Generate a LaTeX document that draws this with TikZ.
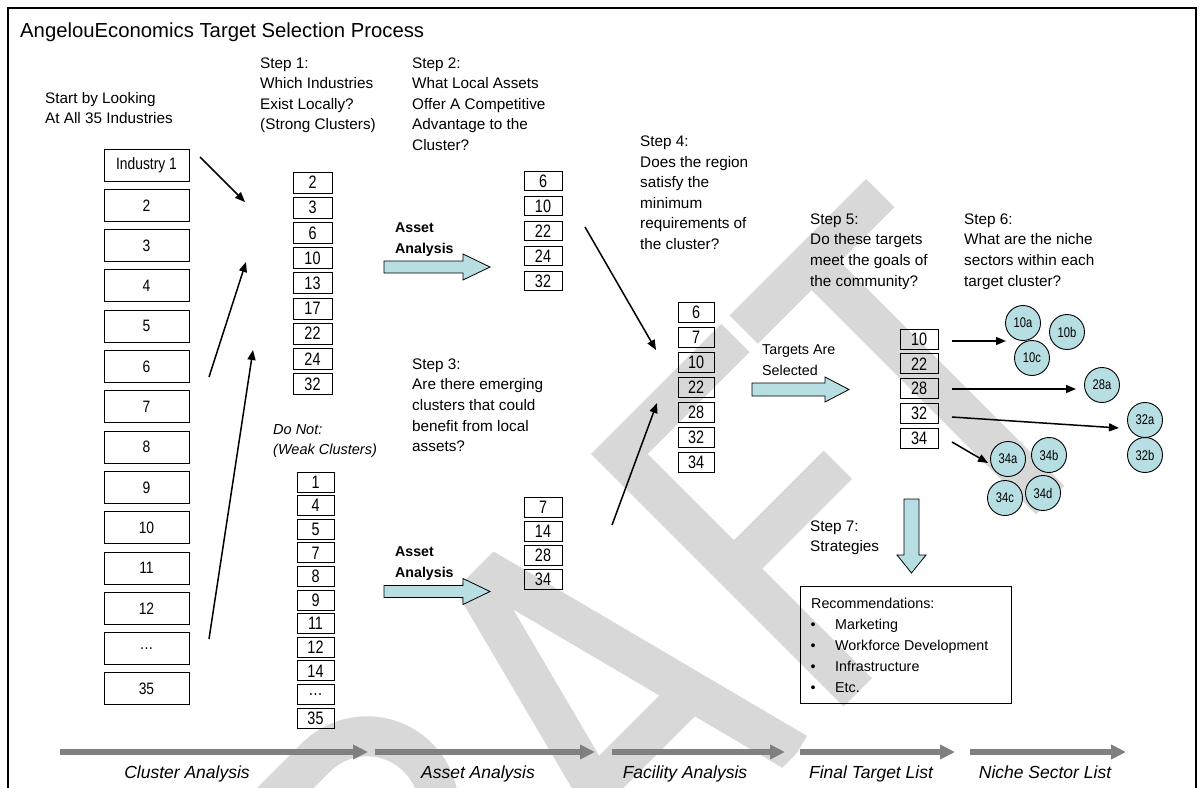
\documentclass[tikz,border=0pt]{standalone}
\usepackage{fontspec}
\setmainfont{Liberation Sans}
\newfontfamily\narrowfont{Liberation Sans}[FakeStretch=0.8]
\newfontfamily\boxfont{Liberation Sans}[FakeStretch=0.84]
\usetikzlibrary{arrows.meta}
\definecolor{wmgray}{RGB}{216,216,216}
\definecolor{arrowfill}{RGB}{183,222,226}
\definecolor{bargray}{RGB}{128,128,128}
\tikzset{
  wmstroke/.style={draw=wmgray, line width=40pt, line cap=butt, line join=miter},
  steptext/.style={anchor=base west, inner sep=0pt, font=\fontsize{15.3}{18}\selectfont},
  smalltext/.style={anchor=base west, inner sep=0pt, font=\fontsize{14.3}{17}\selectfont},
  boldtext/.style={anchor=base west, inner sep=0pt, font=\fontsize{14.2}{17}\selectfont\bfseries},
  itext/.style={anchor=base west, inner sep=0pt, font=\fontsize{14.5}{17}\selectfont\itshape},
  bigbox/.style={draw, line width=1pt, minimum width=85pt, minimum height=32pt, inner sep=0pt, font=\boxfont\fontsize{16.5}{18}\selectfont},
  smallbox/.style={draw, line width=1pt, minimum width=38pt, minimum height=20pt, inner sep=0pt, font=\narrowfont\fontsize{18}{20}\selectfont},
  niche/.style={circle, draw, line width=0.9pt, fill=arrowfill, minimum size=35pt, inner sep=0pt, font=\narrowfont\fontsize{14}{16}\selectfont},
  conn/.style={line width=1.5pt, -{Triangle[length=10pt,width=8pt]}},
  blockarrow/.style={draw, line width=0.8pt, fill=arrowfill},
  phase/.style={draw=bargray, line width=5.5pt, -{Triangle[length=15pt,width=14pt]}},
  phaselabel/.style={anchor=base, inner sep=0pt, font=\fontsize{17.5}{20}\selectfont\itshape},
}
\begin{document}
\begin{tikzpicture}[x=1pt, y=-1pt]
\useasboundingbox (0,0) rectangle (1204,787);
\begin{scope}
\clip (0,0) rectangle (1204,787);
\fill[white] (0,0) rectangle (1204,787);

% ---------- watermark DRAFT ----------
\begin{scope}[shift={(1050,500)}, rotate=45, y=1pt]
  \clip (-1000,0) rectangle (200,357);
  % T
  \draw[wmstroke] (0,0) -- (0,337);
  \draw[wmstroke] (-96,337) -- (97,337);
  % F
  \draw[wmstroke] (-272,0) -- (-272,337) -- (-108,337);
  \draw[wmstroke] (-272,175) -- (-125,175);
  % A
  \draw[wmstroke] (-556,0) -- (-457,382) -- (-358,0);
  \draw[wmstroke] (-525,118) -- (-389,118);
  % R
  \draw[wmstroke] (-880,0) -- (-880,337) -- (-701,337) arc[start angle=90, end angle=-90, radius=72] -- (-880,193);
  \draw[wmstroke] (-740,193) -- (-615,0);
\end{scope}

% ---------- frame ----------
\draw[line width=2pt] (8,800) -- (8,8) -- (1196,8) -- (1196,800);

% ---------- title ----------
\node[anchor=base west, inner sep=0pt, font=\fontsize{20.3}{24}\selectfont] (title) at (20,37) {AngelouEconomics Target Selection Process};

% ---------- texts ----------
\foreach \t [count=\i] in {Start by Looking, At All 35 Industries}
  \node[steptext] (st-\i) at (45,{103+(\i-1)*20.3}) {\t};
\foreach \t [count=\i] in {Step 1:, Which Industries, Exist Locally?, (Strong Clusters)}
  \node[steptext] (s1-\i) at (260,{68+(\i-1)*20.5}) {\t};
\foreach \t [count=\i] in {Step 2:, What Local Assets, Offer A Competitive, Advantage to the, Cluster?}
  \node[steptext] (s2-\i) at (412,{68+(\i-1)*20.5}) {\t};
\foreach \t [count=\i] in {Step 3:, Are there emerging, clusters that could, benefit from local, assets?}
  \node[steptext] (s3-\i) at (412,{369+(\i-1)*20.7}) {\t};
\foreach \t [count=\i] in {Step 4:, Does the region, satisfy the, minimum, requirements of, the cluster?}
  \node[steptext] (s4-\i) at (640,{146.5+(\i-1)*20.5}) {\t};
\foreach \t [count=\i] in {Step 5:, Do these targets, meet the goals of, the community?}
  \node[steptext] (s5-\i) at (810,{224+(\i-1)*20.7}) {\t};
\foreach \t [count=\i] in {Step 6:, What are the niche, sectors within each, target cluster?}
  \node[steptext] (s6-\i) at (964,{224+(\i-1)*20.7}) {\t};
\foreach \t [count=\i] in {Step 7:, Strategies}
  \node[steptext] (s7-\i) at (810,{531+(\i-1)*20.5}) {\t};
\foreach \t [count=\i] in {Asset, Analysis}
  \node[boldtext] (aa1-\i) at (395,{232+(\i-1)*21}) {\t};
\foreach \t [count=\i] in {Asset, Analysis}
  \node[boldtext] (aa2-\i) at (395,{556+(\i-1)*21}) {\t};
\foreach \t [count=\i] in {Targets Are, Selected}
  \node[smalltext] (tg-\i) at (762,{354+(\i-1)*21}) {\t};
\foreach \t [count=\i] in {Do Not:, (Weak Clusters)}
  \node[itext] (dn-\i) at (273,{434+(\i-1)*20}) {\t};

% ---------- boxes ----------
\foreach \t [count=\i] in {Industry 1,2,3,4,5,6,7,8,9,10,11,12,\ldots,35}
  \node[bigbox] (ind-\i) at (146.5,{165+(\i-1)*40.3}) {\t};
\foreach \t [count=\i] in {2,3,6,10,13,17,22,24,32}
  \node[smallbox, minimum width=39pt, minimum height=21pt] (str-\i) at (312.5,{182.5+(\i-1)*25.2}) {\t};
\foreach \t [count=\i] in {1,4,5,7,8,9,11,12,14,\ldots,35}
  \node[smallbox, minimum width=37pt] (wk-\i) at (315.5,{482+(\i-1)*23.6}) {\t};
\foreach \t [count=\i] in {6,10,22,24,32}
  \node[smallbox, minimum height=19.5pt] (b2-\i) at (543,{181+(\i-1)*25}) {\t};
\foreach \t [count=\i] in {7,14,28,34}
  \node[smallbox] (b3-\i) at (543,{507+(\i-1)*24}) {\t};
\foreach \t [count=\i] in {6,7,10,22,28,32,34}
  \node[smallbox, minimum width=36pt] (b4-\i) at (696,{312+(\i-1)*25}) {\t};
\foreach \t [count=\i] in {10,22,28,32,34}
  \node[smallbox] (b5-\i) at (919,{339+(\i-1)*24.8}) {\t};

% ---------- niche circles ----------
\node[niche] (c10a) at (1023,323) {10a};
\node[niche] (c10b) at (1067,332) {10b};
\node[niche] (c10c) at (1032,358) {10c};
\node[niche] (c28a) at (1102,385) {28a};
\node[niche] (c32a) at (1145,420) {32a};
\node[niche] (c32b) at (1145,455) {32b};
\node[niche] (c34a) at (1008,459) {34a};
\node[niche] (c34b) at (1049,455) {34b};
\node[niche] (c34c) at (1005,498) {34c};
\node[niche] (c34d) at (1043,493) {34d};

% ---------- connector arrows ----------
\coordinate (a1s) at (200,157); \coordinate (a1e) at (245,202);
\coordinate (a2s) at (209,377); \coordinate (a2e) at (246,262);
\coordinate (a3s) at (209,639); \coordinate (a3e) at (253,350);
\coordinate (a4s) at (585,227); \coordinate (a4e) at (656,350);
\coordinate (a5s) at (612,525); \coordinate (a5e) at (657,403);
\coordinate (a6s) at (952,341); \coordinate (a6e) at (1006,341);
\coordinate (a7s) at (952,389); \coordinate (a7e) at (1076,389);
\coordinate (a8s) at (952,417); \coordinate (a8e) at (1119,428);
\coordinate (a9s) at (952,442); \coordinate (a9e) at (988,463);
\foreach \k in {1,...,9} \draw[conn] (a\k s) -- (a\k e);

% ---------- block arrows ----------
\draw[blockarrow] (384,261) -- (463,261) -- (463,254) -- (490,267) -- (463,280) -- (463,273) -- (384,273) -- cycle;
\draw[blockarrow] (384,585.5) -- (463,585.5) -- (463,578.5) -- (490,591.5) -- (463,604.5) -- (463,597.5) -- (384,597.5) -- cycle;
\draw[blockarrow] (752,383) -- (825,383) -- (825,377) -- (849,389.5) -- (825,402) -- (825,396) -- (752,396) -- cycle;
\draw[blockarrow] (904,499) -- (919,499) -- (919,555) -- (926,555) -- (911.5,573) -- (897,555) -- (904,555) -- cycle;

% ---------- recommendations ----------
\node[draw, line width=1pt, minimum width=211pt, minimum height=117pt, inner sep=0pt] (rec) at (905.5,644.5) {};
\node[smalltext] (rec-0) at (811,608) {Recommendations:};
\foreach \t [count=\i] in {Marketing, Workforce Development, Infrastructure, Etc.}{
  \node[smalltext, anchor=base] (bul-\i) at (813,{608+\i*21}) {\textbullet};
  \node[smalltext] (rec-\i) at (835,{608+\i*21}) {\t};
}

% ---------- phase arrows ----------
\coordinate (p1s) at (60,752);  \coordinate (p1e) at (368,752);
\coordinate (p2s) at (375,752); \coordinate (p2e) at (595,752);
\coordinate (p3s) at (612,752); \coordinate (p3e) at (785,752);
\coordinate (p4s) at (800,752); \coordinate (p4e) at (955,752);
\coordinate (p5s) at (970,752); \coordinate (p5e) at (1126,752);
\foreach \k in {1,...,5} \draw[phase] (p\k s) -- (p\k e);
\node[phaselabel] (l1) at (187,778) {Cluster Analysis};
\node[phaselabel] (l2) at (478,778) {Asset Analysis};
\node[phaselabel] (l3) at (685,778) {Facility Analysis};
\node[phaselabel] (l4) at (871,778) {Final Target List};
\node[phaselabel] (l5) at (1045,778) {Niche Sector List};
\end{scope}
\end{tikzpicture}
\end{document}
